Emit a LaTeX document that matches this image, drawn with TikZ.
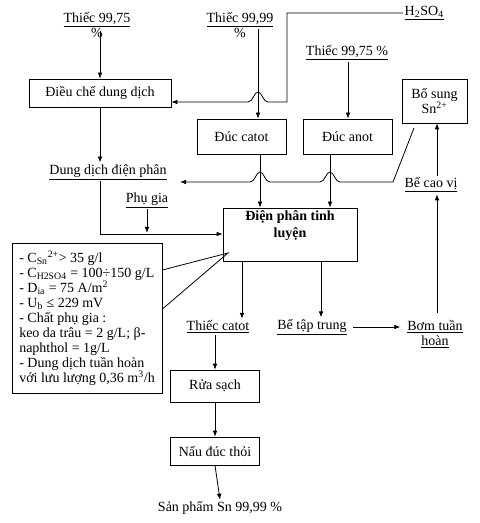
\documentclass[tikz,border=0pt]{standalone}
\usepackage{fontspec}
\setmainfont{Liberation Serif}
\usetikzlibrary{arrows.meta,positioning}
\newcommand{\diagfont}{\fontsize{10.5}{11.25}\selectfont\setlength{\lineskiplimit}{-20pt}}

\begin{document}
\begin{tikzpicture}[x=0.75pt, y=-0.75pt, line width=0.6pt,
    >={Latex[length=4.5pt,width=3.5pt]},
    every node/.style={font=\diagfont, inner sep=1pt, align=center},
    box/.style={draw, inner sep=2pt}]
    \useasboundingbox (0,0) rectangle (479,523);

    \node (tin9975) at (97,25) {\underline{Thiếc 99,75}\\ \%};
    \node (tin9999) at (240,25) {\underline{Thiếc 99,99}\\ \%};
    \node[anchor=west] (axit) at (403,13) {\underline{H\textsubscript{2}SO\textsubscript{4}}};
    \node (tinanot) at (347,53) {\underline{Thiếc 99,75 \%}};

    \node[box, minimum width=106.5pt, minimum height=21pt] (dieuche) at (100,93) {Điều chế dung dịch};
    \node[box, minimum width=48.75pt, minimum height=33pt] (bosung) at (434.5,101) {Bổ sung\\ Sn\textsuperscript{2+}};
    \node[box, minimum width=66.75pt, minimum height=26.25pt] (duccatot) at (241.5,136.5) {Đúc catot};
    \node[box, minimum width=66.75pt, minimum height=26.25pt] (ducanot) at (347.5,136.5) {Đúc anot};

    \node (dungdich) at (108,172) {\underline{Dung dịch điện phân}};
    \node (phugia) at (147,200) {\underline{Phụ gia}};
    \node (becaovi) at (431,185) {\underline{Bể cao vị}};

    \node[box, minimum width=100.5pt, minimum height=39.75pt,
        label={[anchor=north, inner sep=2pt, font=\fontsize{10.5}{12.75}\selectfont\bfseries, align=center]north:Điện phân tinh\\ luyện}] (dienphan) at (290,234.5) {};

    \node[box, minimum width=112.5pt, minimum height=112.5pt, align=left] (thongso) at (87,318) {%
        - C\textsubscript{Sn}\textsuperscript{2+}> 35 g/l\\
        - C\textsubscript{H2SO4} = 100÷150 g/L\\
        - D\textsubscript{ia} = 75 A/m\textsuperscript{2}\\
        - U\textsubscript{b} ≤ 229 mV\\
        - Chất phụ gia :\\
        keo da trâu = 2 g/L; β-\\
        naphthol = 1g/L\\
        - Dung dịch tuần hoàn\\
        với lưu lượng 0,36 m\textsuperscript{3}/h};

    \node (thieccatot) at (218,327) {\underline{Thiếc catot}};
    \node (betaptrung) at (312,327) {\underline{Bể tập trung}};
    \node (bom) at (435,334.5) {\underline{Bơm tuần}\\ \underline{hoàn}};

    \node[box, minimum width=66.75pt, minimum height=24pt] (ruasach) at (215,386) {Rửa sạch};
    \node[box, minimum width=66.75pt, minimum height=21pt] (naudue) at (215,451) {Nấu đúc thỏi};
    \node (sanpham) at (220,508) {Sản phẩm Sn 99,99 \%};

    \coordinate (c1) at (100,31);
    \coordinate (c2) at (258,29);
    \coordinate (c3) at (348,62);
    \coordinate (c4) at (287,102);
    \coordinate (c5) at (414,128);
    \coordinate (c6) at (393,182);
    \coordinate (c7) at (180,182);
    \coordinate (c8) at (100,234);
    \coordinate (d1) at (260,154);
    \coordinate (d2) at (330,154);
    \coordinate (d3) at (242,261);
    \coordinate (d4) at (321,261);
    \coordinate (d5) at (437,313);
    \coordinate (d6) at (437,176);

    \draw[->] (c1) -- (c1 |- dieuche.north);
    \draw[->] (c2) -- (c2 |- duccatot.north);
    \draw[->] (c3) -- (c3 |- ducanot.north);
    \draw[->] (axit.west) -| (c4) -- (268,102) .. controls (263,102) and (262,92) .. (258,92)
        .. controls (254,92) and (253,102) .. (248,102) -- (dieuche.east |- c4);

    \draw[->] (dieuche.south) -- (dieuche.south |- dungdich.north);
    \draw[->] (d1) -- (d1 |- dienphan.north);
    \draw[->] (d2) -- (d2 |- dienphan.north);
    \draw[->] (c5) -- (c6) -- (340,182) .. controls (335,182) and (334,172) .. (330,172)
        .. controls (326,172) and (325,182) .. (320,182) -- (270,182)
        .. controls (265,182) and (264,172) .. (260,172)
        .. controls (256,172) and (255,182) .. (250,182) -- (c7);

    \draw[->] (dungdich.south -| c8) -- (c8) -- (dienphan.west |- c8);
    \draw[->] (phugia.south) -- ([yshift=0.75pt]phugia.south |- c8);
    \draw (thongso.east |- 162,270) -- (228,253) -- (thongso.east |- 162,309);

    \draw[->] (d3) -- (d3 |- thieccatot.north);
    \draw[->] (d4) -- (d4 |- betaptrung.north);
    \draw[->] (betaptrung.east) ++(5,0) -- ([xshift=-4pt]bom.west |- betaptrung.east);
    \draw[->] (d5) -- (d5 |- becaovi.south);
    \draw[->] (d6) -- (d6 |- bosung.south);

    \draw[->] (ruasach.north |- thieccatot.south) -- (ruasach.north);
    \draw[->] (ruasach.south) -- (naudue.north);
    \draw[->] (naudue.south) -- (sanpham.north);
\end{tikzpicture}
\end{document}
